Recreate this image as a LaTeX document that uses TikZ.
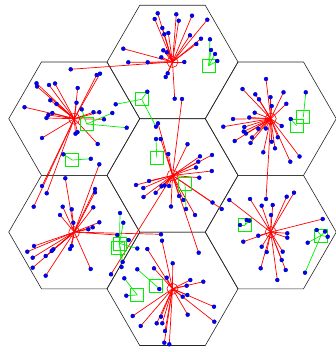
\documentclass[tikz,border=0pt]{standalone}
\usepackage{xcolor}

\definecolor{uegreen}{RGB}{0,240,0}
\pgfdeclarelayer{links}
\pgfsetlayers{links,main}

\tikzset{
  cell/.style={draw=black!85, line width=0.6pt},
  bs/.style={circle, draw=red, line width=0.6pt, minimum size=11pt, inner sep=0pt},
  ue/.style={circle, fill=blue, draw=blue!60!black, line width=0.3pt, minimum size=4pt, inner sep=0pt},
  sc/.style={rectangle, draw=uegreen, line width=0.8pt, minimum size=13pt, inner sep=0pt},
  bslink/.style={red, line width=0.7pt},
  sclink/.style={uegreen, line width=0.7pt}
}

\begin{document}
\begin{tikzpicture}[x=1pt, y=-1pt]
\useasboundingbox (0,0) rectangle (335,352);

% Estaciones base
\node[bs] (bsT)  at (172.5,62)    {};
\node[bs] (bsUL) at (74.25,118.7) {};
\node[bs] (bsUR) at (270.75,118.7) {};
\node[bs] (bsC)  at (172.5,175.4) {};
\node[bs] (bsLL) at (74.25,232.1) {};
\node[bs] (bsLR) at (270.75,232.1) {};
\node[bs] (bsB)  at (172.5,288.8) {};

% Celdas
\begin{pgfonlayer}{links}
	\foreach \c in {bsT, bsUL, bsUR, bsC, bsLL, bsLR, bsB}
		\draw[cell] (\c) +(0:65.5) -- +(60:65.5) -- +(120:65.5) -- +(180:65.5) -- +(240:65.5) -- +(300:65.5) -- cycle;
\end{pgfonlayer}

% Usuarios de cada estacion base
\foreach \x/\y [count=\i] in {157.7/13.3, 176.3/14.3, 192/15.7, 154.7/19, 178.7/20.7, 207.3/19.7, 162.3/28, 168.3/33, 164.3/34.3, 190/35.3, 201/38.7, 196.3/44, 123.3/48.7, 163.3/50.3, 167/52.3, 161.3/57.3, 128.3/62.3, 147.7/62.3, 184.3/62, 167.7/73.3, 165.7/77, 174.7/98.7, 70.7/69.3} {
	\node[ue] (t\i) at (\x,\y) {};
	\begin{pgfonlayer}{links}\draw[bslink] (bsT.center) -- (t\i.center);\end{pgfonlayer}
}

\foreach \x/\y [count=\i] in {36.5/83.3, 37/86.5, 49/85, 55/83.5, 77.7/88, 96.7/75, 100/73.7, 50.3/100.3, 56.5/104, 76.5/102.7, 24.5/107.2, 52.3/113, 48.3/115, 46.5/118, 93.5/112.2, 99.3/112.2, 104/119.3, 42/138, 75.5/133.7, 77.5/132.2, 97.7/144, 42/186, 46.7/193.3, 33.7/206.7} {
	\node[ue] (ul\i) at (\x,\y) {};
	\begin{pgfonlayer}{links}\draw[bslink] (bsUL.center) -- (ul\i.center);\end{pgfonlayer}
}

\foreach \x/\y [count=\i] in {266/79, 242.5/89, 255.3/94.3, 259/99.3, 270.5/97.2, 283.5/92.3, 286.3/103.8, 271.7/106, 254.7/112.7, 249.3/117.5, 233/119, 223.3/126.7, 244.3/127, 243.7/131.5, 246/133.5, 258.3/128.8, 265.8/128.5, 281.7/126, 234.7/141, 252/137.5, 250.5/143, 271.7/141.7, 277.8/137.3, 275/148.3, 263.3/152.3, 290.3/161.7, 299.5/156.5, 266/199} {
	\node[ue] (ur\i) at (\x,\y) {};
	\begin{pgfonlayer}{links}\draw[bslink] (bsUR.center) -- (ur\i.center);\end{pgfonlayer}
}

\foreach \x/\y [count=\i] in {158/123.3, 182/99, 160.7/139, 187.5/144.2, 168.3/154, 200/156.3, 212/155, 198.3/161.7, 196/167.5, 211.8/171, 199.3/177.7, 136/185, 149/181, 143.3/188, 155.7/192.8, 161.5/186.3, 164.5/185.5, 169/186, 143.5/197, 171/206.5, 179/196, 183.3/200, 195/215, 212.5/202.5, 221.7/209, 111/274.3, 198.7/252.7} {
	\node[ue] (c\i) at (\x,\y) {};
	\begin{pgfonlayer}{links}\draw[bslink] (bsC.center) -- (c\i.center);\end{pgfonlayer}
}

\foreach \x/\y [count=\i] in {65.3/178.3, 99.3/164.3, 95/189, 95/192.3, 62.7/206.7, 60/215, 71.7/209.3, 93.3/207.3, 73.3/222.7, 99.3/222.3, 92.7/227.3, 88.3/229.3, 34/246, 27.3/251.7, 32.7/257.7, 45.7/256, 53.3/249.3, 51.7/251, 70/249, 71.7/246, 32.7/267.7, 45.7/275.7, 90.7/269, 117.3/235, 161/234.3} {
	\node[ue] (ll\i) at (\x,\y) {};
	\begin{pgfonlayer}{links}\draw[bslink] (bsLL.center) -- (ll\i.center);\end{pgfonlayer}
}

\foreach \x/\y [count=\i] in {229.3/200, 250/199, 261.7/205.7, 272.7/205, 286.7/196.7, 294/192.7, 271/215, 322.7/219, 258.3/235.7, 243.3/241.7, 287.3/233.3, 287.3/237.7, 261.7/246.7, 266.7/252, 282.7/251.7, 281.7/260, 260.7/268.3, 285.7/270, 277.3/280} {
	\node[ue] (lr\i) at (\x,\y) {};
	\begin{pgfonlayer}{links}\draw[bslink] (bsLR.center) -- (lr\i.center);\end{pgfonlayer}
}

\foreach \x/\y [count=\i] in {162/240.7, 147.3/249, 172.7/263.3, 154/268.3, 166.7/277.7, 190.3/280, 203.3/281.7, 186.7/285.7, 182.7/296.7, 187.3/295, 214/306.7, 132.7/316, 140.7/326, 156.7/323.3, 161/316.7, 162.3/323.3, 187.7/314.7, 214.3/321.7, 165/331, 164.3/342.7, 169.3/344.3} {
	\node[ue] (b\i) at (\x,\y) {};
	\begin{pgfonlayer}{links}\draw[bslink] (bsB.center) -- (b\i.center);\end{pgfonlayer}
}

% Celdas pequenas y sus usuarios
\foreach \n/\sx/\sy/\pts in {
	1/208.7/65.7/{210/39.3, 211/50, 215/54, 217.3/61},
	2/141.7/99.3/{147.3/91.7, 115.7/104.3, 156/126.7},
	3/86.7/124/{81.7/109.3, 112.3/113, 126.7/127.7},
	4/72.3/160/{63.3/154.3, 90.8/158.8},
	5/156.7/157.7/{156/139},
	6/185/183.5/{186/209},
	7/119.5/243.5/{120/213, 123.3/222.7, 128.7/240, 137.3/248.5, 122.7/262, 121.5/267},
	8/156/285.7/{137.3/269.3, 159.3/289},
	9/137.3/295/{124.3/278.3, 126.3/295.7},
	10/303.3/117.3/{305.8/92.3},
	11/296.7/125.7/{290.7/119},
	12/245/225/{246.7/220, 249.3/220.7, 240/225},
	13/321/235.5/{316.7/230, 325/231.5, 327.7/236.7, 307.7/242.7, 305/272.7}} {
	\node[sc] (sc\n) at (\sx,\sy) {};
	\foreach \x/\y [count=\i] in \pts {
		\node[ue] (s\n-\i) at (\x,\y) {};
		\begin{pgfonlayer}{links}\draw[sclink] (sc\n.center) -- (s\n-\i.center);\end{pgfonlayer}
	}
}
\node[sc] (sc7b) at (117.5,247.5) {};

\end{tikzpicture}
\end{document}
